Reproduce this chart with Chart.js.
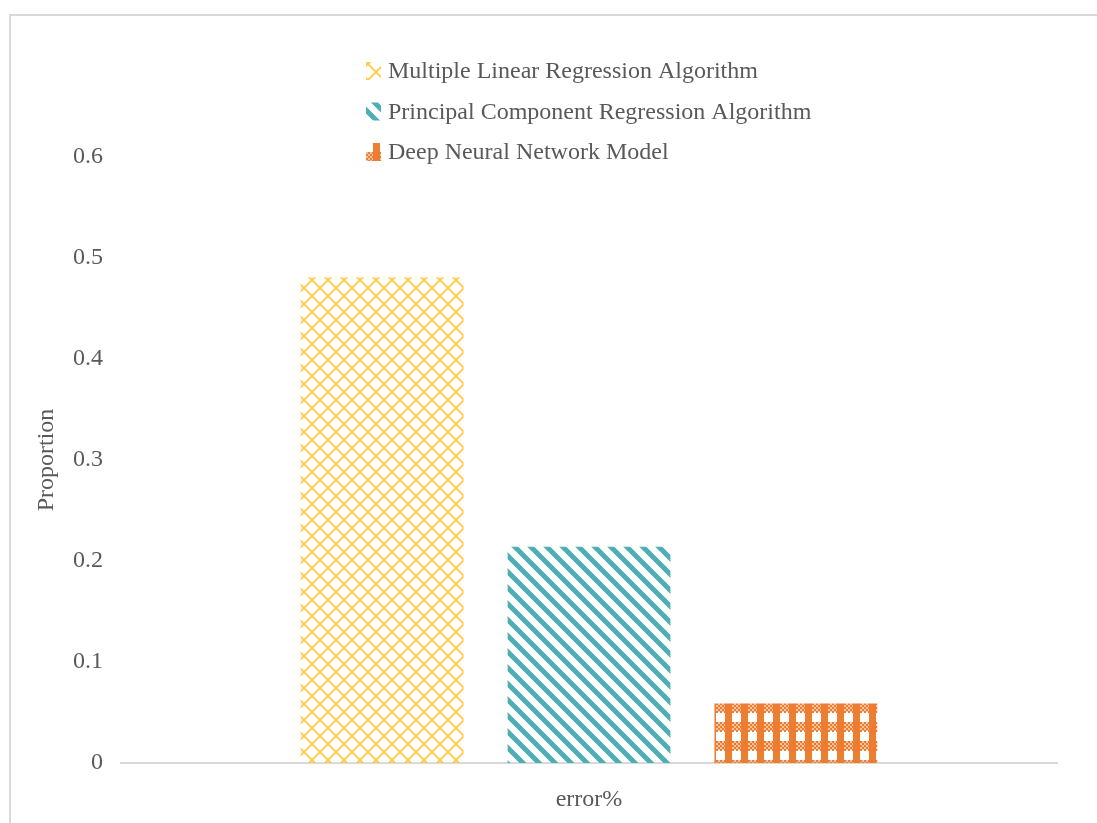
<!DOCTYPE html>
<html>
<head>
<meta charset="utf-8">
<script src="https://cdn.jsdelivr.net/npm/chart.js@4/dist/chart.umd.min.js"></script>
<style>
  html,body{margin:0;padding:0;background:#fff}
  #wrap{width:1097px;height:823px}
</style>
</head>
<body>
<div id="wrap"><canvas id="c" width="1097" height="823"></canvas></div>
<script>
// data
const categories = ["error%"]
const seriesNames = ["Multiple Linear Regression Algorithm", "Principal Component Regression Algorithm", "Deep Neural Network Model"]
const mlrValues = [0.481]
const pcrValues = [0.214]
const dnnValues = [0.059]
const yTicks = [0, 0.1, 0.2, 0.3, 0.4, 0.5, 0.6]

const textColor = "#595959"
const fontFam = "'Liberation Serif', 'Times New Roman', serif"

function tile(w, h, draw){
    let cv = document.createElement("canvas")
    cv.width = w; cv.height = h
    let g = cv.getContext("2d")
    draw(g)
    return document.getElementById("c").getContext("2d").createPattern(cv, "repeat")
}

// yellow diamond lattice
const yellowPat = tile(16, 16, function(g){
    g.strokeStyle = "#FFC83D"
    g.lineWidth = 1.8
    g.beginPath()
    g.moveTo(0,0); g.lineTo(16,16)
    g.moveTo(16,0); g.lineTo(0,16)
    g.stroke()
})

// teal backslash stripes
const tealPat = tile(16, 16, function(g){
    g.strokeStyle = "#4EADB5"
    g.lineWidth = 5
    g.beginPath()
    g.moveTo(-4,-4); g.lineTo(20,20)
    g.moveTo(-20,-4); g.lineTo(4,20)
    g.moveTo(12,-4); g.lineTo(36,20)
    g.stroke()
})

// orange columns with dotted bands
const orangePat = tile(16, 19, function(g){
    g.fillStyle = "#ED7D31"
    g.fillRect(5, 0, 7, 19)
    for (let y = 0; y < 9; y += 2){
        for (let x = 0; x < 16; x += 2){
            if (((x + y) / 2) % 2 == 0){ g.fillRect(x, y, 2, 2) }
        }
    }
    g.globalAlpha = 0.45
    g.fillRect(0, 0, 16, 9)
})

const patterns = [yellowPat, tealPat, orangePat]

// frame round the picture, as in the original image
const framePlugin = {
    id: "frame",
    beforeDraw(chart){
        let ctx = chart.ctx
        ctx.save()
        ctx.strokeStyle = "#d9d9d9"
        ctx.lineWidth = 2
        ctx.beginPath()
        ctx.moveTo(10, 830); ctx.lineTo(10, 15); ctx.lineTo(1100, 15)
        ctx.stroke()
        ctx.restore()
    }
}

// vertical legend stacked over the plot
const legendPlugin = {
    id: "stackLegend",
    afterDraw(chart){
        let ctx = chart.ctx
        ctx.save()
        ctx.font = "24px " + fontFam
        ctx.textBaseline = "middle"
        chart.data.datasets.forEach(function(ds, i){
            let y = 71 + i * 40.5
            ctx.fillStyle = ds.backgroundColor
            ctx.fillRect(366, y - 9, 15, 18)
            ctx.fillStyle = textColor
            ctx.fillText(ds.label, 388, y + 1)
        })
        ctx.restore()
    }
}

new Chart(document.getElementById("c"), {
    type: "bar",
    data: {
        labels: categories,
        datasets: [
            {label: seriesNames[0], data: mlrValues, backgroundColor: patterns[0]},
            {label: seriesNames[1], data: pcrValues, backgroundColor: patterns[1]},
            {label: seriesNames[2], data: dnnValues, backgroundColor: patterns[2]}
        ]
    },
    options: {
        responsive: false,
        animation: false,
        layout: {padding: {top: 157, left: 32, right: 40, bottom: 0}},
        datasets: {bar: {barPercentage: 0.787, categoryPercentage: 0.663}},
        plugins: {
            legend: {display: false},
            tooltip: {enabled: false}
        },
        scales: {
            x: {
                grid: {display: false, drawTicks: false},
                border: {display: true, color: "#d9d9d9", width: 2},
                ticks: {color: textColor, font: {family: fontFam, size: 24}, padding: 22},
                afterFit(s){ s.height = 60 }
            },
            y: {
                min: 0, max: 0.6,
                afterBuildTicks(s){ s.ticks = yTicks.map(v => ({value: v})) },
                grid: {display: false, drawTicks: false},
                border: {display: false},
                ticks: {color: textColor, font: {family: fontFam, size: 24}, padding: 18},
                title: {display: true, text: "Proportion", color: textColor, font: {family: fontFam, size: 24}, padding: 0},
                afterFit(s){ s.width = 89 }
            }
        }
    },
    plugins: [framePlugin, legendPlugin]
})
</script>
</body>
</html>
